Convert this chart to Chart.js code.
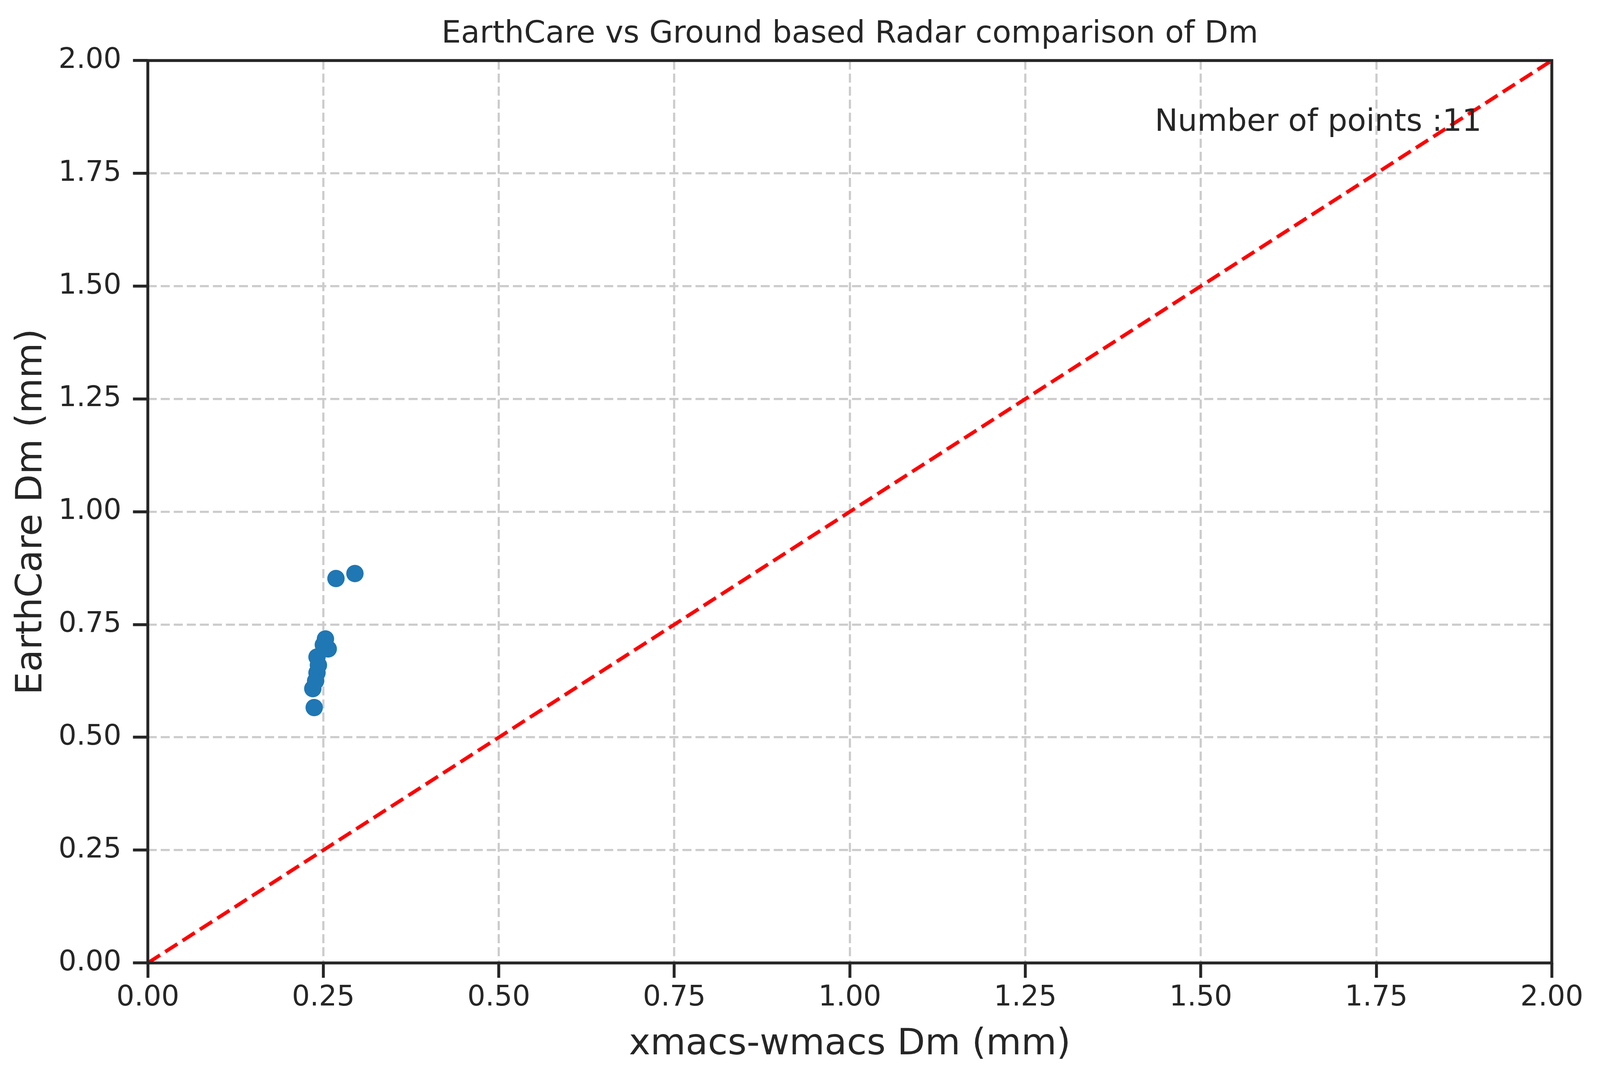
<!DOCTYPE html>
<html>
<head>
<meta charset="utf-8">
<script src="https://cdn.jsdelivr.net/npm/chart.js@4/dist/chart.umd.min.js"></script>
<style>
  html, body { margin: 0; padding: 0; background: #fff; overflow: hidden; }
  #wrap { width: 100vw; height: 100vh; }
</style>
</head>
<body>
<div id="wrap"><canvas id="scatter"></canvas></div>
<script>
// ground radar (x) vs EarthCare (y) Dm, mm
const dmGround    = [0.268, 0.295, 0.253, 0.257, 0.241, 0.241, 0.235, 0.237, 0.243, 0.239, 0.250];
const dmEarthCare = [0.852, 0.863, 0.718, 0.696, 0.678, 0.643, 0.608, 0.566, 0.660, 0.625, 0.705];

// 1:1 reference line
const oneToOneX = [0, 2];
const oneToOneY = [0, 2];

const tickValues = [0, 0.25, 0.5, 0.75, 1, 1.25, 1.5, 1.75, 2];
const tickLabels = ["0.00", "0.25", "0.50", "0.75", "1.00", "1.25", "1.50", "1.75", "2.00"];

const nPoints = dmGround.length;
const dark = "#262626";
const fontFamily = "'DejaVu Sans', sans-serif";

// sizes below are worked out for a 4416x2776 view, scaled to whatever we get
const kx = window.innerWidth / 4416;
const ky = window.innerHeight / 2776;
const k = Math.min(kx, ky);

function axis(titleText, fitProp, fitSize, labelPad, titlePad) {
  return {
    type: "linear",
    min: 0,
    max: 2,
    afterBuildTicks: (scale) => { scale.ticks = tickValues.map(v => ({ value: v })) },
    afterFit: (scale) => { scale[fitProp] = fitSize },
    ticks: {
      color: dark,
      padding: labelPad,
      font: { family: fontFamily, size: 78 * k },
      callback: (v, i) => tickLabels[i]
    },
    grid: {
      color: "#cccccc",
      lineWidth: 6 * k,
      tickLength: 41 * k,
      tickWidth: 8 * k,
      tickColor: dark,
      tickBorderDash: []
    },
    border: { display: false, dash: [25 * k, 11 * k] },
    title: {
      display: true,
      text: titleText,
      color: dark,
      font: { family: fontFamily, size: 100 * k },
      padding: titlePad
    }
  }
}

// spines on all four sides plus the point count text
const frame = {
  id: "frame",
  afterDatasetsDraw(chart) {
    const { ctx, chartArea: a } = chart;
    ctx.save();
    ctx.strokeStyle = dark;
    ctx.lineWidth = 8 * k;
    ctx.strokeRect(a.left, a.top, a.right - a.left, a.bottom - a.top);
    ctx.fillStyle = dark;
    ctx.font = (85 * k) + "px " + fontFamily;
    ctx.textAlign = "right";
    ctx.textBaseline = "alphabetic";
    ctx.fillText("Number of points :" + nPoints,
      a.left + 0.95 * (a.right - a.left),
      a.top + 0.078 * (a.bottom - a.top));
    ctx.restore();
  }
};

new Chart(document.getElementById("scatter"), {
  type: "scatter",
  data: {
    datasets: [
      {
        label: "Dm",
        data: dmGround.map((x, i) => ({ x: x, y: dmEarthCare[i] })),
        backgroundColor: "#1f77b4",
        borderWidth: 0,
        pointRadius: 24 * k,
        pointHoverRadius: 24 * k
      },
      {
        label: "1:1",
        data: oneToOneX.map((x, i) => ({ x: x, y: oneToOneY[i] })),
        showLine: true,
        borderColor: "#ff0000",
        borderWidth: 10 * k,
        borderDash: [40 * k, 17 * k],
        pointRadius: 0,
        fill: false
      }
    ]
  },
  options: {
    responsive: true,
    maintainAspectRatio: false,
    animation: false,
    layout: { padding: { left: 0, right: 133 * kx, top: 0, bottom: 0 } },
    plugins: {
      legend: { display: false },
      tooltip: { enabled: false },
      title: {
        display: true,
        fullSize: false,
        text: "EarthCare vs Ground based Radar comparison of Dm",
        color: dark,
        font: { family: fontFamily, size: 85 * k, weight: "normal", lineHeight: 1.2 },
        padding: { top: 155 * ky - 102 * k - 19 * ky, bottom: 19 * ky }
      }
    },
    scales: {
      x: axis("xmacs-wmacs Dm (mm)", "height", 310 * ky, 9 * k, { top: 0, bottom: 44 * ky }),
      y: axis("EarthCare Dm (mm)", "width", 408 * kx, 32 * k, { top: 28 * kx, bottom: 0 })
    }
  },
  plugins: [frame]
});
</script>
</body>
</html>
